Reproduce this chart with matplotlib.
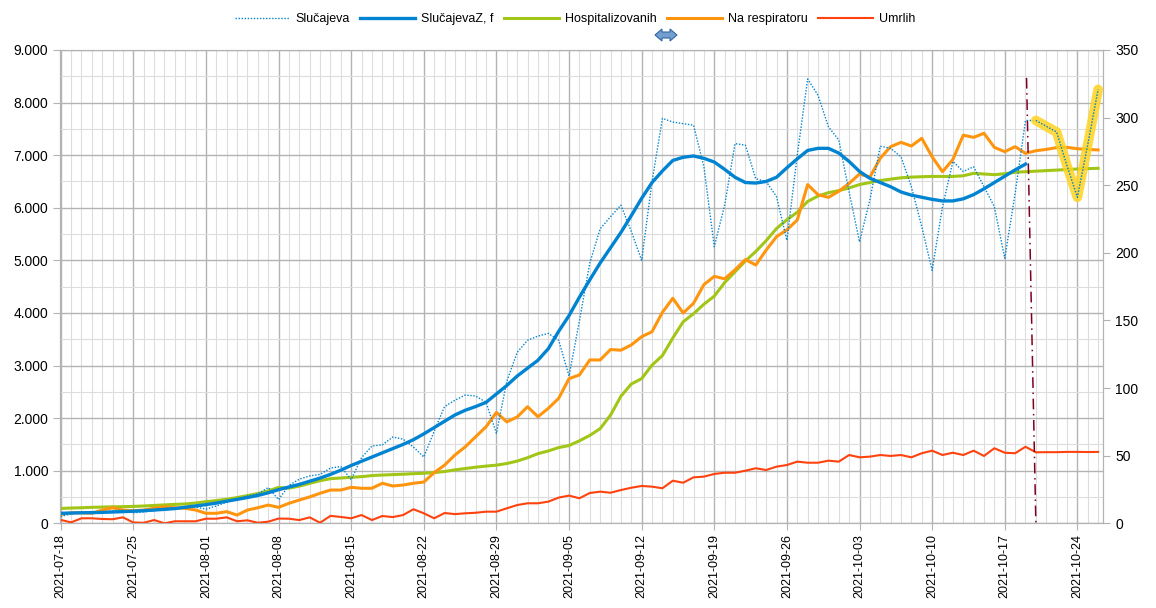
import matplotlib
matplotlib.use("Agg")
import matplotlib.pyplot as plt
import matplotlib.patches as mpatches
from matplotlib.ticker import FuncFormatter, MultipleLocator
import numpy as np
import pandas as pd

plt.rcParams['font.family'] = ['Liberation Sans', 'DejaVu Sans']

dates = pd.date_range("2021-07-18", periods=101)
days = np.arange(len(dates))

slucajeva = [
    130, 180, 200, 195, 205, 240, 250, 200, 215, 240,
    280, 290, 300, 310, 270, 330, 400, 460, 520, 560,
    680, 450, 720, 840, 900, 930, 1050, 1080, 830, 1250,
    1470, 1490, 1640, 1600, 1450, 1260, 1750, 2220, 2340, 2440,
    2420, 2300, 1710, 2700, 3250, 3480, 3560, 3610, 3480, 2800,
    3850, 4950, 5600, 5830, 6050, 5550, 5000, 6500, 7700, 7630,
    7600, 7570, 6780, 5260, 6050, 7220, 7190, 6550, 6500, 6210,
    5380, 7000, 8450, 8140, 7540, 7290, 6300, 5350, 6150, 7170,
    7130, 6970, 6400, 5640, 4810, 6020, 6880, 6690, 6780, 6400,
    6020, 5040, 6270, 7660, 7660, 7550, 7440, 6800, 6200, 7200,
    8250,
]

slucajeva_z = [
    190, 195, 200, 203, 208, 215, 222, 230, 240, 252,
    265, 280, 305, 330, 355, 385, 420, 455, 490, 530,
    580, 640, 690, 740, 800, 860, 930, 1010, 1100, 1180,
    1260, 1340, 1420, 1500, 1590, 1700, 1820, 1940, 2060, 2150,
    2220, 2300, 2460, 2620, 2800, 2950, 3100, 3320, 3650, 3950,
    4300, 4630, 4950, 5240, 5530, 5850, 6180, 6480, 6700, 6900,
    6960, 6985, 6940, 6870, 6730, 6580, 6480, 6470, 6500, 6580,
    6760, 6930, 7090, 7130, 7130, 7040, 6880, 6690, 6560, 6480,
    6400, 6300, 6240, 6200, 6160, 6130, 6130, 6170, 6250, 6360,
    6480, 6600, 6720, 6830,
] + [np.nan] * 7

hospitalizovanih = [
    11, 11.3, 11.5, 11.8, 12, 12.2, 12.3, 12.5, 12.8, 13.2,
    13.6, 14, 14.3, 15, 16, 16.8, 17.8, 19, 20.5, 22,
    24, 26.5, 26, 27.5, 29.5, 31.5, 33, 33.5, 34, 34.5,
    35.3, 35.7, 36, 36.3, 36.7, 37, 37.5, 38.3, 39.5, 40.5,
    41.5, 42.3, 43, 44.2, 46, 48.5, 51.5, 53.5, 56, 57.5,
    61, 65, 70, 80, 94, 103, 107, 117, 124, 137,
    149, 155, 162, 168, 178, 186, 194, 201, 209, 218,
    224.5, 230, 238, 242, 244.5, 246, 248, 250.5, 252, 253.5,
    254.5, 255.5, 256, 256.3, 256.5, 256.5, 256.5, 257, 258.8, 258.3,
    257.8, 258.5, 259.6, 260, 260.4, 260.8, 261.2, 261.6, 262, 262.3,
    262.5,
]

na_respiratoru = [
    6.5, 7.8, 7.8, 7.4, 9.8, 11.5, 9.8, 9.3, 9.8, 11.1,
    12.3, 11.5, 11.1, 9.8, 7.4, 7.4, 8.6, 6.1, 9.8, 11.5,
    13.5, 11.8, 14.8, 17.2, 19.5, 22.2, 24.6, 24.6, 26.6, 25.9,
    25.9, 29.6, 27.6, 28.3, 29.6, 30.5, 37.5, 43, 50.5, 56.6,
    64, 71.4, 82, 75, 78.6, 86.2, 78.8, 85, 92.4, 107,
    109.7, 120.8, 120.8, 128.5, 128, 131.9, 138, 141.7, 156, 166.4,
    155.5, 162.7, 176.5, 182.6, 180.8, 187.5, 195, 191, 202, 212,
    217, 224.3, 250.5, 243, 241, 245.5, 251.4, 258.3, 256, 270,
    278.5, 281.7, 279, 284.7, 271, 260, 269, 287, 285.4, 288.4,
    278, 274.8, 278.5, 273.6, 275.5, 276.5, 277.8, 278, 277, 276.5,
    276.1,
]

umrlih = [
    2.5, 0.7, 3.7, 3.7, 3.2, 3, 4.4, 0.6, 0.4, 2.4,
    0, 1.5, 1.5, 1.5, 3.4, 3.4, 4.4, 1.5, 2.2, 0.4,
    1.2, 3.5, 3.4, 2.4, 4.4, 0.4, 5.5, 4.7, 3.7, 6.1,
    2.4, 5.4, 4.6, 6.1, 10.4, 7.4, 3.7, 7.6, 6.8, 7.4,
    7.8, 8.6, 8.6, 11.1, 13.5, 14.8, 14.8, 16, 19, 20.5,
    18.5, 22.4, 23.4, 22.6, 24.6, 26.3, 27.6, 27.1, 25.9, 31.5,
    30, 34, 34.5, 36.5, 37.4, 37.4, 38.9, 40.7, 39.4, 41.9,
    43.1, 45.6, 44.8, 44.8, 46.3, 45.6, 50.5, 48.8, 49.3, 50.5,
    49.8, 50.5, 48.8, 51.8, 53.7, 50.5, 52.2, 50.5, 53.7, 49.8,
    55.5, 52.2, 51.8, 56.6, 52.5, 52.6, 52.6, 52.8, 52.8, 52.7,
    52.8,
]

highlight_from = 94          # start of the highlighted (yellow) part of Slučajeva
marker_line_x = [93.1, 94.0]  # slanted dash-dot separator
marker_line_y = [8470, 0]

tick_idx = list(range(0, len(dates), 7))
tick_labels = [dates[i].strftime("%Y-%m-%d") for i in tick_idx]

c_blue = "#0084d1"
c_green = "#a2c617"
c_orange = "#ff950e"
c_red = "#ff420e"
c_grid = "#b3b3b3"
c_grid_minor = "#dddddd"

fig = plt.figure(figsize=(11.56, 6.08), dpi=100)
ax = fig.add_axes([60 / 1156, 84.7 / 608, 1043.3 / 1156, 473.3 / 608])
ax2 = ax.twinx()

# grid (left axis)
ax.set_xlim(-0.07, 100.5)
ax.set_ylim(0, 9000)
ax.yaxis.set_major_locator(MultipleLocator(1000))
ax.yaxis.set_minor_locator(MultipleLocator(500))
ax.set_xticks(tick_idx)
ax.set_xticklabels(tick_labels, rotation=90)
ax.xaxis.set_minor_locator(MultipleLocator(1))
ax.grid(True, which="major", color=c_grid, lw=1)
ax.grid(True, which="minor", color=c_grid_minor, lw=0.8)
ax.set_axisbelow(True)
ax.yaxis.set_major_formatter(FuncFormatter(lambda v, p: f"{v:,.0f}".replace(",", ".")))
ax.tick_params(axis="both", which="major", length=5, color=c_grid, labelsize=10)
ax.tick_params(axis="y", which="minor", length=0)
ax.tick_params(axis="x", which="minor", length=0)
ax.tick_params(axis="x", labelsize=9, pad=3)

ax2.set_ylim(0, 350)
ax2.yaxis.set_major_locator(MultipleLocator(50))
ax2.tick_params(axis="y", length=5, color=c_grid, labelsize=10)

for a in (ax, ax2):
    for s in a.spines.values():
        s.set_color(c_grid)

# right axis series
l_hosp, = ax2.plot(days, hospitalizovanih, color=c_green, lw=2.2, label="Hospitalizovanih")
l_resp, = ax2.plot(days, na_respiratoru, color=c_orange, lw=2.2, label="Na respiratoru")
l_umr, = ax2.plot(days, umrlih, color=c_red, lw=1.5, label="Umrlih")

# left axis series drawn on top layer with left-axis transform
l_sl, = ax2.plot(days, slucajeva, color=c_blue, lw=1.0, ls=(0, (1, 1.2)),
                 transform=ax.transData, label="Slučajeva")
l_z, = ax2.plot(days, slucajeva_z, color=c_blue, lw=2.4,
                transform=ax.transData, label="SlučajevaZ, f")
ax2.plot(days[highlight_from:], slucajeva[highlight_from:], color="#ffd320", lw=7,
         alpha=0.85, solid_capstyle="round", solid_joinstyle="round",
         transform=ax.transData, zorder=3)
ax2.plot(days[highlight_from:], slucajeva[highlight_from:], color=c_blue, lw=1.0,
         ls=(0, (1, 1.2)), transform=ax.transData, zorder=4)
ax2.plot(marker_line_x, marker_line_y, color="#7e0021", lw=1.1,
         ls=(0, (7, 3, 1, 3)), transform=ax.transData, zorder=4)

ax2.set_ylim(0, 350)
ax2.set_xlim(-0.07, 100.5)

fig.legend(handles=[l_sl, l_z, l_hosp, l_resp, l_umr], loc="center",
           bbox_to_anchor=(575 / 1156, 1 - 19 / 608), ncol=5, frameon=False,
           fontsize=9, handlelength=4.4, handletextpad=0.5, columnspacing=0.8)

# small double arrow decoration near the legend
pts = [(655, 35), (662, 29), (662, 32), (670, 32), (670, 29), (677, 35),
       (670, 41), (670, 38), (662, 38), (662, 41)]
poly = mpatches.Polygon([(x / 1156, 1 - y / 608) for x, y in pts], closed=True,
                        transform=fig.transFigure, facecolor="#729fcf",
                        edgecolor="#3465a4", lw=0.8)
fig.patches.append(poly)

fig.savefig("out.png", dpi=100)
